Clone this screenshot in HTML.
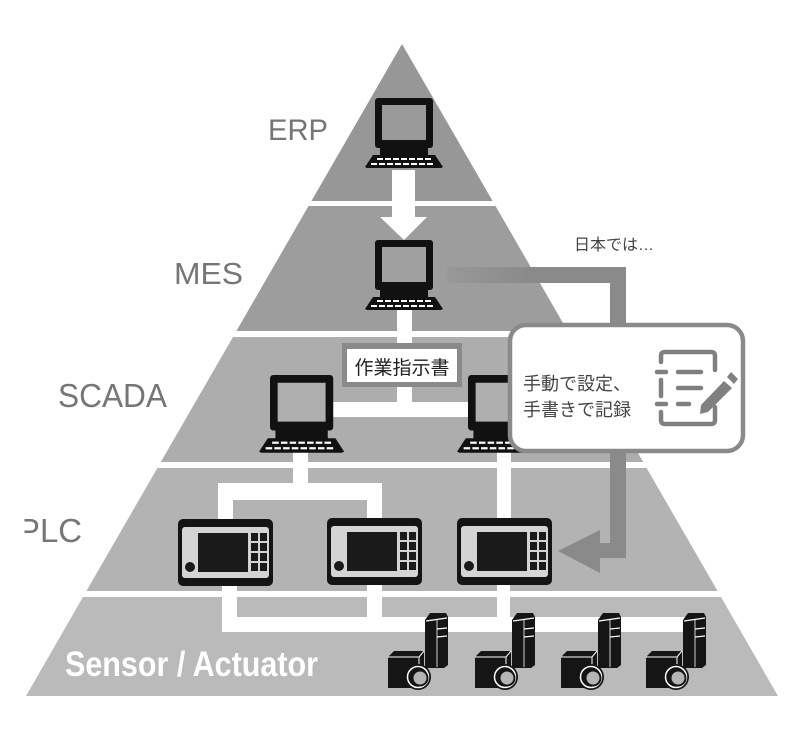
<!DOCTYPE html>
<html>
<head>
<meta charset="utf-8">
<style>
html,body{margin:0;padding:0;background:#fff;}
svg{display:block;}
</style>
</head>
<body>
<svg width="800" height="735" viewBox="0 0 800 735" xmlns="http://www.w3.org/2000/svg">
<defs>
  <g id="pc">
    <rect x="0" y="0" width="58" height="50" rx="3" fill="#111"/>
    <rect x="7" y="7" width="44" height="35" fill="currentColor"/>
    <polygon points="5,46 53,46 53,59 5,59" fill="#111"/>
    <polygon points="-2,57 60,57 68,69 66,70 -8,70 -10,69" fill="#111"/>
    <g fill="#fff">
      <rect x="2" y="60" width="6" height="2"/><rect x="10" y="60" width="6" height="2"/><rect x="18" y="60" width="6" height="2"/><rect x="26" y="60" width="6" height="2"/><rect x="34" y="60" width="6" height="2"/><rect x="42" y="60" width="6" height="2"/><rect x="50" y="60" width="6" height="2"/>
      <rect x="-4" y="65" width="6" height="2"/><rect x="4" y="65" width="6" height="2"/><rect x="12" y="65" width="6" height="2"/><rect x="20" y="65" width="6" height="2"/><rect x="28" y="65" width="6" height="2"/><rect x="36" y="65" width="6" height="2"/><rect x="44" y="65" width="6" height="2"/><rect x="52" y="65" width="6" height="2"/>
    </g>
  </g>
  <g id="plc">
    <rect x="0" y="0" width="95" height="67" rx="5" fill="#141414"/>
    <rect x="4" y="8" width="87" height="51" rx="3" fill="#d4d4d4"/>
    <rect x="20" y="14" width="50" height="39" fill="#1a1a1a"/>
    <g fill="#1a1a1a">
      <rect x="73" y="14" width="7" height="8"/><rect x="82" y="14" width="7" height="8"/>
      <rect x="73" y="24" width="7" height="8"/><rect x="82" y="24" width="7" height="8"/>
      <rect x="73" y="34" width="7" height="8"/><rect x="82" y="34" width="7" height="8"/>
      <rect x="73" y="44" width="7" height="8"/><rect x="82" y="44" width="7" height="8"/>
    </g>
    <circle cx="12" cy="48" r="5" fill="#1a1a1a"/>
  </g>
  <g id="sensor">
    <polygon points="0,7 5,0 21,0 23,4 23,52 19,55 0,55" fill="#151515"/>
    <line x1="1" y1="8" x2="22" y2="5" stroke="#fff" stroke-width="1.2"/>
    <line x1="12" y1="16" x2="22" y2="15" stroke="#fff" stroke-width="1.2"/>
    <line x1="12" y1="24" x2="22" y2="23" stroke="#fff" stroke-width="1.2"/>
    <line x1="12" y1="7" x2="12" y2="54" stroke="#fff" stroke-width="0.8"/>
    <polygon points="-37,44 -31,38 -1,38 -6,44" fill="#151515"/>
    <rect x="-37" y="44" width="31" height="31" fill="#151515"/>
    <polygon points="-6,44 -1,38 -1,70 -6,75" fill="#151515"/>
    <polyline points="-37,44 -6,44 -1,38" fill="none" stroke="#fff" stroke-width="1"/>
    <line x1="-6" y1="44" x2="-6" y2="75" stroke="#fff" stroke-width="1"/>
    <circle cx="-7" cy="64" r="13" fill="#151515"/>
    <circle cx="-7" cy="64" r="10.5" fill="none" stroke="#fff" stroke-width="1.5"/>
    <circle cx="-5" cy="65" r="7.5" fill="#b5b5b5" stroke="#151515" stroke-width="2"/>
  </g>
  <linearGradient id="fade" x1="447" y1="0" x2="530" y2="0" gradientUnits="userSpaceOnUse">
    <stop offset="0" stop-color="#8a8a8a" stop-opacity="0.25"/>
    <stop offset="1" stop-color="#8a8a8a" stop-opacity="1"/>
  </linearGradient>
</defs>

<rect width="800" height="735" fill="#fff"/>

<polygon points="402,44 492.6,201 311.4,201" fill="#979797"/>
<polygon points="308.5,206 495.5,206 567.6,331 236.4,331" fill="#9d9d9d"/>
<polygon points="233,337 571,337 643.2,462 160.8,462" fill="#adadad"/>
<polygon points="157.4,468 646.6,468 717.6,591 86.4,591" fill="#b3b3b3"/>
<polygon points="83,597 721,597 778,696 26,696" fill="#bababa"/>

<g fill="#fff">
  <rect x="397" y="308" width="15" height="36"/>
  <rect x="397" y="385" width="15" height="20"/>
  <rect x="330" y="402" width="140" height="15"/>
  <rect x="293" y="450" width="15" height="36"/>
  <rect x="218" y="483" width="164" height="17"/>
  <rect x="218" y="483" width="15" height="37"/>
  <rect x="367" y="483" width="15" height="37"/>
  <rect x="497" y="450" width="14" height="70"/>
  <rect x="222" y="583" width="15" height="49"/>
  <rect x="367" y="583" width="15" height="36"/>
  <rect x="497" y="583" width="13" height="36"/>
  <rect x="222" y="617" width="465" height="15"/>
</g>

<polygon points="392,170 415,170 415,217 427,217 404,240 380,217 392,217" fill="#fff"/>

<use href="#pc" x="375" y="98" style="color:#9a9a9a"/>
<use href="#pc" x="375" y="240" style="color:#a0a0a0"/>
<g transform="translate(270,375) scale(1.09,1.11)"><use href="#pc" style="color:#afafaf"/></g>
<g transform="translate(468,375) scale(1.09,1.11)"><use href="#pc" style="color:#afafaf"/></g>

<rect x="342" y="343" width="120" height="44" fill="#8a8a8a"/>
<rect x="347" y="349" width="110" height="33" fill="#fff"/>
<text x="402" y="374" font-family="'Liberation Sans','Noto Sans CJK JP',sans-serif" font-size="19" fill="#222" text-anchor="middle">作業指示書</text>

<rect x="447" y="267" width="179" height="16" fill="url(#fade)"/>
<rect x="610" y="267" width="16" height="60" fill="#8a8a8a"/>
<rect x="610" y="450" width="16" height="108" fill="#8a8a8a"/>
<rect x="597" y="543" width="29" height="15" fill="#8a8a8a"/>
<polygon points="558,551 600,530 600,573" fill="#8a8a8a"/>

<rect x="510" y="325" width="233" height="126" rx="16" fill="#fff" stroke="#8a8a8a" stroke-width="4.5"/>
<text x="523" y="390" font-family="'Liberation Sans','Noto Sans CJK JP',sans-serif" font-size="18" fill="#444">手動で設定、</text>
<text x="523" y="416" font-family="'Liberation Sans','Noto Sans CJK JP',sans-serif" font-size="18" fill="#444">手書きで記録</text>

<g fill="none" stroke="#808080" stroke-width="4.5" stroke-linecap="round">
  <path d="M661,362 L661,356 Q661,352 665,352 L711,352 Q715,352 715,356 L715,370"/>
  <path d="M715,407 L715,420 Q715,424 711,424 L665,424 Q661,424 661,420 L661,412"/>
  <line x1="661" y1="380" x2="661" y2="396"/>
  <line x1="657" y1="372" x2="666" y2="372"/>
  <line x1="657" y1="404" x2="666" y2="404"/>
  <line x1="678" y1="372" x2="701" y2="372"/>
  <line x1="678" y1="388" x2="701" y2="388"/>
  <line x1="678" y1="404" x2="689" y2="404"/>
</g>
<polygon points="724,381 732,388 708,412 700,414 701,405" fill="#808080"/>
<polygon points="727,377 731,372 738,379 734,384" fill="#808080"/>

<text x="574" y="250" font-family="'Liberation Sans','Noto Sans CJK JP',sans-serif" font-size="16" fill="#444">日本では…</text>

<use href="#plc" x="178" y="519"/>
<use href="#plc" x="327" y="518"/>
<use href="#plc" x="457" y="518"/>

<use href="#sensor" x="425" y="613"/>
<use href="#sensor" x="512" y="613"/>
<use href="#sensor" x="598" y="613"/>
<use href="#sensor" x="683" y="613"/>

<g font-family="'Liberation Sans',sans-serif" fill="#767676">
  <text x="268" y="140" font-size="30" textLength="60" lengthAdjust="spacingAndGlyphs">ERP</text>
  <text x="174" y="284" font-size="31" textLength="69" lengthAdjust="spacingAndGlyphs">MES</text>
  <text x="58" y="407" font-size="33" textLength="109" lengthAdjust="spacingAndGlyphs">SCADA</text>
  <text x="18" y="542" font-size="33" textLength="64" lengthAdjust="spacingAndGlyphs">PLC</text>
</g>
<rect x="0" y="508" width="24.5" height="40" fill="#fff"/>
<text x="65" y="676" font-family="'Liberation Sans',sans-serif" font-weight="bold" font-size="35" fill="#fff" textLength="253" lengthAdjust="spacingAndGlyphs">Sensor / Actuator</text>
</svg>
</body>
</html>
